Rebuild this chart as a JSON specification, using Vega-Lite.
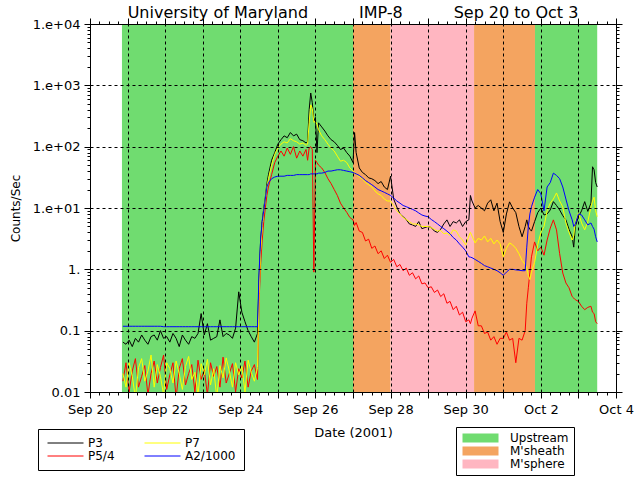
{
  "$schema": "https://vega.github.io/schema/vega-lite/v6.json",
  "width": 526,
  "height": 368,
  "autosize": {"type": "none"},
  "padding": {"left": 90, "top": 24, "right": 24, "bottom": 88},
  "background": "white",
  "config": {
    "font": "DejaVu Sans",
    "view": {"stroke": "black"},
    "axis": {"domainColor": "black", "tickColor": "black", "labelColor": "black", "titleColor": "black", "titleFontWeight": "normal"}
  },
  "title": {
    "text": "University of Maryland\u00a0\u00a0\u00a0\u00a0\u00a0\u00a0\u00a0\u00a0\u00a0\u00a0IMP-8\u00a0\u00a0\u00a0\u00a0\u00a0\u00a0\u00a0\u00a0\u00a0\u00a0Sep 20 to Oct 3",
    "fontSize": 16,
    "fontWeight": "normal",
    "anchor": "middle",
    "offset": -3,
    "color": "black"
  },
  "data": {
    "values": [
      {"t": "2001-09-20T21:00", "P3": 0.065, "P5/4": 0.015, "P7": 0.02, "A2/1000": 0.118},
      {"t": "2001-09-20T23:00", "P3": 0.06, "P5/4": 0.03, "P7": 0.012, "A2/1000": 0.118},
      {"t": "2001-09-21T01:00", "P3": 0.07, "P5/4": 0.01, "P7": 0.03, "A2/1000": 0.118},
      {"t": "2001-09-21T03:00", "P3": 0.055, "P5/4": 0.022, "P7": 0.018, "A2/1000": 0.118},
      {"t": "2001-09-21T05:00", "P3": 0.075, "P5/4": 0.035, "P7": 0.008, "A2/1000": 0.118},
      {"t": "2001-09-21T07:00", "P3": 0.065, "P5/4": 0.012, "P7": 0.025, "A2/1000": 0.118},
      {"t": "2001-09-21T09:00", "P3": 0.085, "P5/4": 0.018, "P7": 0.035, "A2/1000": 0.118},
      {"t": "2001-09-21T11:00", "P3": 0.07, "P5/4": 0.027, "P7": 0.015, "A2/1000": 0.118},
      {"t": "2001-09-21T13:00", "P3": 0.06, "P5/4": 0.009, "P7": 0.022, "A2/1000": 0.118},
      {"t": "2001-09-21T15:00", "P3": 0.08, "P5/4": 0.02, "P7": 0.04, "A2/1000": 0.118},
      {"t": "2001-09-21T17:00", "P3": 0.085, "P5/4": 0.032, "P7": 0.012, "A2/1000": 0.118},
      {"t": "2001-09-21T19:00", "P3": 0.07, "P5/4": 0.014, "P7": 0.028, "A2/1000": 0.118},
      {"t": "2001-09-21T21:00", "P3": 0.1, "P5/4": 0.025, "P7": 0.018, "A2/1000": 0.118},
      {"t": "2001-09-21T23:00", "P3": 0.075, "P5/4": 0.04, "P7": 0.009, "A2/1000": 0.116},
      {"t": "2001-09-22T01:00", "P3": 0.08, "P5/4": 0.011, "P7": 0.03, "A2/1000": 0.116},
      {"t": "2001-09-22T03:00", "P3": 0.065, "P5/4": 0.019, "P7": 0.024, "A2/1000": 0.116},
      {"t": "2001-09-22T05:00", "P3": 0.09, "P5/4": 0.03, "P7": 0.014, "A2/1000": 0.116},
      {"t": "2001-09-22T07:00", "P3": 0.075, "P5/4": 0.008, "P7": 0.032, "A2/1000": 0.116},
      {"t": "2001-09-22T09:00", "P3": 0.055, "P5/4": 0.024, "P7": 0.02, "A2/1000": 0.116},
      {"t": "2001-09-22T11:00", "P3": 0.085, "P5/4": 0.035, "P7": 0.011, "A2/1000": 0.116},
      {"t": "2001-09-22T13:00", "P3": 0.07, "P5/4": 0.013, "P7": 0.026, "A2/1000": 0.116},
      {"t": "2001-09-22T15:00", "P3": 0.06, "P5/4": 0.02, "P7": 0.038, "A2/1000": 0.116},
      {"t": "2001-09-22T17:00", "P3": 0.08, "P5/4": 0.028, "P7": 0.016, "A2/1000": 0.116},
      {"t": "2001-09-22T19:00", "P3": 0.075, "P5/4": 0.01, "P7": 0.021, "A2/1000": 0.116},
      {"t": "2001-09-22T21:00", "P3": 0.09, "P5/4": 0.033, "P7": 0.009, "A2/1000": 0.116},
      {"t": "2001-09-22T23:00", "P3": 0.19, "P5/4": 0.016, "P7": 0.029, "A2/1000": 0.116},
      {"t": "2001-09-23T01:00", "P3": 0.085, "P5/4": 0.023, "P7": 0.019, "A2/1000": 0.116},
      {"t": "2001-09-23T03:00", "P3": 0.13, "P5/4": 0.009, "P7": 0.034, "A2/1000": 0.116},
      {"t": "2001-09-23T05:00", "P3": 0.07, "P5/4": 0.03, "P7": 0.013, "A2/1000": 0.116},
      {"t": "2001-09-23T07:00", "P3": 0.075, "P5/4": 0.018, "P7": 0.024, "A2/1000": 0.116},
      {"t": "2001-09-23T09:00", "P3": 0.08, "P5/4": 0.026, "P7": 0.008, "A2/1000": 0.116},
      {"t": "2001-09-23T11:00", "P3": 0.15, "P5/4": 0.012, "P7": 0.027, "A2/1000": 0.116},
      {"t": "2001-09-23T13:00", "P3": 0.08, "P5/4": 0.037, "P7": 0.017, "A2/1000": 0.116},
      {"t": "2001-09-23T15:00", "P3": 0.09, "P5/4": 0.014, "P7": 0.036, "A2/1000": 0.116},
      {"t": "2001-09-23T17:00", "P3": 0.085, "P5/4": 0.02, "P7": 0.022, "A2/1000": 0.116},
      {"t": "2001-09-23T19:00", "P3": 0.075, "P5/4": 0.029, "P7": 0.012, "A2/1000": 0.116},
      {"t": "2001-09-23T21:00", "P3": 0.11, "P5/4": 0.01, "P7": 0.03, "A2/1000": 0.116},
      {"t": "2001-09-23T23:00", "P3": 0.43, "P5/4": 0.024, "P7": 0.019, "A2/1000": 0.116},
      {"t": "2001-09-24T01:00", "P3": 0.2, "P5/4": 0.017, "P7": 0.026, "A2/1000": 0.116},
      {"t": "2001-09-24T03:00", "P3": 0.14, "P5/4": 0.032, "P7": 0.01, "A2/1000": 0.116},
      {"t": "2001-09-24T05:00", "P3": 0.1, "P5/4": 0.012, "P7": 0.033, "A2/1000": 0.116},
      {"t": "2001-09-24T07:00", "P3": 0.08, "P5/4": 0.022, "P7": 0.021, "A2/1000": 0.116},
      {"t": "2001-09-24T09:00", "P3": 0.065, "P5/4": 0.028, "P7": 0.015, "A2/1000": 0.116},
      {"t": "2001-09-24T11:00", "P3": 0.09, "P5/4": 0.016, "P7": 0.025, "A2/1000": 0.116},
      {"t": "2001-09-24T12:00", "P3": 0.7, "P5/4": 0.3, "P7": 0.4, "A2/1000": 0.9},
      {"t": "2001-09-24T13:00", "P3": 3, "P5/4": 1.2, "P7": 2, "A2/1000": 3},
      {"t": "2001-09-24T14:00", "P3": 6, "P5/4": 3, "P7": 5, "A2/1000": 6},
      {"t": "2001-09-24T15:00", "P3": 10, "P5/4": 6, "P7": 9, "A2/1000": 9},
      {"t": "2001-09-24T16:00", "P3": 15, "P5/4": 10, "P7": 14, "A2/1000": 14},
      {"t": "2001-09-24T17:00", "P3": 25, "P5/4": 16, "P7": 22, "A2/1000": 22},
      {"t": "2001-09-24T18:00", "P3": 35, "P5/4": 22, "P7": 30, "A2/1000": 26},
      {"t": "2001-09-24T20:00", "P3": 60, "P5/4": 35, "P7": 50, "A2/1000": 30},
      {"t": "2001-09-24T22:00", "P3": 80, "P5/4": 55, "P7": 75, "A2/1000": 32},
      {"t": "2001-09-25T00:00", "P3": 110, "P5/4": 70, "P7": 95, "A2/1000": 33},
      {"t": "2001-09-25T02:00", "P3": 130, "P5/4": 85, "P7": 110, "A2/1000": 33},
      {"t": "2001-09-25T04:00", "P3": 150, "P5/4": 70, "P7": 120, "A2/1000": 33},
      {"t": "2001-09-25T06:00", "P3": 140, "P5/4": 95, "P7": 115, "A2/1000": 34},
      {"t": "2001-09-25T08:00", "P3": 170, "P5/4": 75, "P7": 135, "A2/1000": 34},
      {"t": "2001-09-25T10:00", "P3": 150, "P5/4": 100, "P7": 125, "A2/1000": 34},
      {"t": "2001-09-25T12:00", "P3": 160, "P5/4": 65, "P7": 120, "A2/1000": 35},
      {"t": "2001-09-25T14:00", "P3": 130, "P5/4": 85, "P7": 110, "A2/1000": 35},
      {"t": "2001-09-25T16:00", "P3": 125, "P5/4": 70, "P7": 115, "A2/1000": 35},
      {"t": "2001-09-25T18:00", "P3": 115, "P5/4": 90, "P7": 105, "A2/1000": 35},
      {"t": "2001-09-25T19:00", "P3": 120, "P5/4": 60, "P7": 110, "A2/1000": 35},
      {"t": "2001-09-25T20:00", "P3": 400, "P5/4": 95, "P7": 250, "A2/1000": 35},
      {"t": "2001-09-25T21:00", "P3": 750, "P5/4": 100, "P7": 480, "A2/1000": 36},
      {"t": "2001-09-25T22:00", "P3": 520, "P5/4": 90, "P7": 420, "A2/1000": 36},
      {"t": "2001-09-25T23:00", "P3": 260, "P5/4": 0.9, "P7": 250, "A2/1000": 36},
      {"t": "2001-09-26T00:00", "P3": 300, "P5/4": 60, "P7": 260, "A2/1000": 36},
      {"t": "2001-09-26T01:00", "P3": 80, "P5/4": 55, "P7": 230, "A2/1000": 36},
      {"t": "2001-09-26T02:00", "P3": 245, "P5/4": 50, "P7": 190, "A2/1000": 37},
      {"t": "2001-09-26T04:00", "P3": 210, "P5/4": 45, "P7": 150, "A2/1000": 37},
      {"t": "2001-09-26T06:00", "P3": 180, "P5/4": 38, "P7": 130, "A2/1000": 38},
      {"t": "2001-09-26T08:00", "P3": 150, "P5/4": 30, "P7": 110, "A2/1000": 40},
      {"t": "2001-09-26T10:00", "P3": 130, "P5/4": 25, "P7": 95, "A2/1000": 40},
      {"t": "2001-09-26T12:00", "P3": 120, "P5/4": 20, "P7": 85, "A2/1000": 41},
      {"t": "2001-09-26T14:00", "P3": 105, "P5/4": 16, "P7": 70, "A2/1000": 42},
      {"t": "2001-09-26T16:00", "P3": 90, "P5/4": 12, "P7": 58, "A2/1000": 42},
      {"t": "2001-09-26T18:00", "P3": 95, "P5/4": 10, "P7": 60, "A2/1000": 41},
      {"t": "2001-09-26T20:00", "P3": 80, "P5/4": 8.5, "P7": 55, "A2/1000": 40},
      {"t": "2001-09-26T22:00", "P3": 70, "P5/4": 7, "P7": 45, "A2/1000": 39},
      {"t": "2001-09-27T00:00", "P3": 55, "P5/4": 6.4, "P7": 40, "A2/1000": 38},
      {"t": "2001-09-27T01:00", "P3": 170, "P5/4": 5.2, "P7": 38, "A2/1000": 37},
      {"t": "2001-09-27T02:00", "P3": 80, "P5/4": 5.8, "P7": 36, "A2/1000": 36},
      {"t": "2001-09-27T04:00", "P3": 45, "P5/4": 4.2, "P7": 32, "A2/1000": 34},
      {"t": "2001-09-27T06:00", "P3": 38, "P5/4": 4.0, "P7": 30, "A2/1000": 31},
      {"t": "2001-09-27T08:00", "P3": 35, "P5/4": 2.9, "P7": 26, "A2/1000": 28},
      {"t": "2001-09-27T10:00", "P3": 31, "P5/4": 3.1, "P7": 24, "A2/1000": 26},
      {"t": "2001-09-27T12:00", "P3": 30, "P5/4": 2.2, "P7": 22, "A2/1000": 24},
      {"t": "2001-09-27T14:00", "P3": 28, "P5/4": 2.4, "P7": 19, "A2/1000": 22},
      {"t": "2001-09-27T16:00", "P3": 25, "P5/4": 1.8, "P7": 17, "A2/1000": 20},
      {"t": "2001-09-27T18:00", "P3": 27, "P5/4": 2.0, "P7": 16, "A2/1000": 19},
      {"t": "2001-09-27T20:00", "P3": 22, "P5/4": 1.5, "P7": 14, "A2/1000": 18},
      {"t": "2001-09-27T22:00", "P3": 20, "P5/4": 1.7, "P7": 13, "A2/1000": 17},
      {"t": "2001-09-28T00:00", "P3": 33, "P5/4": 1.3, "P7": 13, "A2/1000": 16},
      {"t": "2001-09-28T02:00", "P3": 14, "P5/4": 1.45, "P7": 11, "A2/1000": 14.5},
      {"t": "2001-09-28T04:00", "P3": 10.4, "P5/4": 1.1, "P7": 9, "A2/1000": 13},
      {"t": "2001-09-28T06:00", "P3": 8, "P5/4": 1.2, "P7": 8, "A2/1000": 12},
      {"t": "2001-09-28T08:00", "P3": 7.2, "P5/4": 0.95, "P7": 7, "A2/1000": 11},
      {"t": "2001-09-28T10:00", "P3": 6.5, "P5/4": 1.05, "P7": 6.5, "A2/1000": 10.5},
      {"t": "2001-09-28T12:00", "P3": 5.5, "P5/4": 0.8, "P7": 6, "A2/1000": 10},
      {"t": "2001-09-28T14:00", "P3": 5.3, "P5/4": 0.88, "P7": 5.5, "A2/1000": 9.5},
      {"t": "2001-09-28T16:00", "P3": 5.0, "P5/4": 0.7, "P7": 5.5, "A2/1000": 9},
      {"t": "2001-09-28T18:00", "P3": 6, "P5/4": 0.78, "P7": 5.3, "A2/1000": 8.3},
      {"t": "2001-09-28T20:00", "P3": 4.6, "P5/4": 0.58, "P7": 5.0, "A2/1000": 7.7},
      {"t": "2001-09-28T22:00", "P3": 4.8, "P5/4": 0.6, "P7": 5, "A2/1000": 7.4},
      {"t": "2001-09-29T00:00", "P3": 5, "P5/4": 0.5, "P7": 5, "A2/1000": 7.2},
      {"t": "2001-09-29T02:00", "P3": 4.8, "P5/4": 0.52, "P7": 4.8, "A2/1000": 6.5},
      {"t": "2001-09-29T04:00", "P3": 4.2, "P5/4": 0.42, "P7": 4.5, "A2/1000": 6},
      {"t": "2001-09-29T06:00", "P3": 4.0, "P5/4": 0.46, "P7": 4.2, "A2/1000": 5.5},
      {"t": "2001-09-29T08:00", "P3": 4.5, "P5/4": 0.36, "P7": 4.3, "A2/1000": 5},
      {"t": "2001-09-29T10:00", "P3": 5.5, "P5/4": 0.4, "P7": 3.8, "A2/1000": 4.6},
      {"t": "2001-09-29T12:00", "P3": 6.4, "P5/4": 0.28, "P7": 3.9, "A2/1000": 4.2},
      {"t": "2001-09-29T14:00", "P3": 5, "P5/4": 0.3, "P7": 3.6, "A2/1000": 3.8},
      {"t": "2001-09-29T16:00", "P3": 6, "P5/4": 0.22, "P7": 4.4, "A2/1000": 3.3},
      {"t": "2001-09-29T18:00", "P3": 5.7, "P5/4": 0.25, "P7": 4.2, "A2/1000": 3.0},
      {"t": "2001-09-29T20:00", "P3": 6.4, "P5/4": 0.18, "P7": 3.4, "A2/1000": 2.6},
      {"t": "2001-09-29T22:00", "P3": 5, "P5/4": 0.2, "P7": 3.0, "A2/1000": 2.3},
      {"t": "2001-09-30T00:00", "P3": 6, "P5/4": 0.14, "P7": 2.5, "A2/1000": 2.0},
      {"t": "2001-09-30T02:00", "P3": 6.4, "P5/4": 0.15, "P7": 3.5, "A2/1000": 1.6},
      {"t": "2001-09-30T03:00", "P3": 16, "P5/4": 0.13, "P7": 4.0, "A2/1000": 1.58},
      {"t": "2001-09-30T04:00", "P3": 13, "P5/4": 0.16, "P7": 3.5, "A2/1000": 1.55},
      {"t": "2001-09-30T06:00", "P3": 10, "P5/4": 0.21, "P7": 2.7, "A2/1000": 1.45},
      {"t": "2001-09-30T08:00", "P3": 11, "P5/4": 0.12, "P7": 3.2, "A2/1000": 1.35},
      {"t": "2001-09-30T10:00", "P3": 10, "P5/4": 0.12, "P7": 3.0, "A2/1000": 1.25},
      {"t": "2001-09-30T12:00", "P3": 9, "P5/4": 0.09, "P7": 3.5, "A2/1000": 1.15},
      {"t": "2001-09-30T14:00", "P3": 12, "P5/4": 0.095, "P7": 2.8, "A2/1000": 1.1},
      {"t": "2001-09-30T16:00", "P3": 13.6, "P5/4": 0.07, "P7": 3.2, "A2/1000": 1.05},
      {"t": "2001-09-30T18:00", "P3": 9, "P5/4": 0.08, "P7": 2.6, "A2/1000": 1.0},
      {"t": "2001-09-30T20:00", "P3": 12, "P5/4": 0.06, "P7": 3.0, "A2/1000": 0.95},
      {"t": "2001-09-30T22:00", "P3": 6, "P5/4": 0.075, "P7": 2.6, "A2/1000": 0.88},
      {"t": "2001-10-01T00:00", "P3": 4.0, "P5/4": 0.075, "P7": 1.6, "A2/1000": 0.8},
      {"t": "2001-10-01T02:00", "P3": 8, "P5/4": 0.095, "P7": 2.2, "A2/1000": 0.9},
      {"t": "2001-10-01T04:00", "P3": 12.6, "P5/4": 0.07, "P7": 2.7, "A2/1000": 1.0},
      {"t": "2001-10-01T06:00", "P3": 10, "P5/4": 0.075, "P7": 2.5, "A2/1000": 1.0},
      {"t": "2001-10-01T08:00", "P3": 8.4, "P5/4": 0.03, "P7": 2.2, "A2/1000": 0.98},
      {"t": "2001-10-01T10:00", "P3": 5, "P5/4": 0.075, "P7": 1.8, "A2/1000": 0.97},
      {"t": "2001-10-01T12:00", "P3": 3.4, "P5/4": 0.07, "P7": 1.4, "A2/1000": 0.95},
      {"t": "2001-10-01T14:00", "P3": 5, "P5/4": 0.1, "P7": 1.2, "A2/1000": 0.95},
      {"t": "2001-10-01T15:00", "P3": 6.4, "P5/4": 0.28, "P7": 1.05, "A2/1000": 2.3},
      {"t": "2001-10-01T16:00", "P3": 5, "P5/4": 0.5, "P7": 0.8, "A2/1000": 5},
      {"t": "2001-10-01T17:00", "P3": 4.5, "P5/4": 0.9, "P7": 0.68, "A2/1000": 8},
      {"t": "2001-10-01T18:00", "P3": 4.2, "P5/4": 1.6, "P7": 0.9, "A2/1000": 10.5},
      {"t": "2001-10-01T20:00", "P3": 6, "P5/4": 2.8, "P7": 1.3, "A2/1000": 15},
      {"t": "2001-10-01T22:00", "P3": 8.4, "P5/4": 2.0, "P7": 2.5, "A2/1000": 20},
      {"t": "2001-10-02T00:00", "P3": 10, "P5/4": 2.3, "P7": 4.0, "A2/1000": 17},
      {"t": "2001-10-02T02:00", "P3": 7.7, "P5/4": 1.7, "P7": 5, "A2/1000": 9},
      {"t": "2001-10-02T04:00", "P3": 8, "P5/4": 3.0, "P7": 9, "A2/1000": 22},
      {"t": "2001-10-02T06:00", "P3": 9.3, "P5/4": 4.7, "P7": 12, "A2/1000": 26},
      {"t": "2001-10-02T08:00", "P3": 12.7, "P5/4": 6.4, "P7": 14, "A2/1000": 37},
      {"t": "2001-10-02T10:00", "P3": 11, "P5/4": 4.4, "P7": 17.6, "A2/1000": 34},
      {"t": "2001-10-02T12:00", "P3": 9.3, "P5/4": 1.8, "P7": 13, "A2/1000": 30},
      {"t": "2001-10-02T14:00", "P3": 7.5, "P5/4": 0.87, "P7": 10.4, "A2/1000": 22},
      {"t": "2001-10-02T16:00", "P3": 6.4, "P5/4": 0.6, "P7": 5.7, "A2/1000": 14},
      {"t": "2001-10-02T18:00", "P3": 4.5, "P5/4": 0.5, "P7": 4.0, "A2/1000": 9},
      {"t": "2001-10-02T20:00", "P3": 3.4, "P5/4": 0.36, "P7": 3.0, "A2/1000": 6.4},
      {"t": "2001-10-02T21:00", "P3": 2.3, "P5/4": 0.34, "P7": 3.5, "A2/1000": 5},
      {"t": "2001-10-02T22:00", "P3": 5, "P5/4": 0.32, "P7": 6, "A2/1000": 5.5},
      {"t": "2001-10-03T00:00", "P3": 7.2, "P5/4": 0.3, "P7": 8.4, "A2/1000": 8},
      {"t": "2001-10-03T02:00", "P3": 9, "P5/4": 0.25, "P7": 5.7, "A2/1000": 7.7},
      {"t": "2001-10-03T04:00", "P3": 12.7, "P5/4": 0.22, "P7": 4.4, "A2/1000": 6.4},
      {"t": "2001-10-03T06:00", "P3": 8.8, "P5/4": 0.24, "P7": 6, "A2/1000": 5.3},
      {"t": "2001-10-03T08:00", "P3": 12, "P5/4": 0.25, "P7": 10.4, "A2/1000": 5.7},
      {"t": "2001-10-03T09:00", "P3": 47, "P5/4": 0.2, "P7": 13, "A2/1000": 5},
      {"t": "2001-10-03T10:00", "P3": 42, "P5/4": 0.19, "P7": 15, "A2/1000": 4.5},
      {"t": "2001-10-03T11:00", "P3": 26, "P5/4": 0.14, "P7": 9, "A2/1000": 3.4},
      {"t": "2001-10-03T12:00", "P3": 22, "P5/4": 0.13, "P7": 7.2, "A2/1000": 2.8}
    ]
  },
  "layer": [
    {
      "data": {
        "values": [
          {"start": "2001-09-20T20:25", "end": "2001-09-27T00:00", "region": "Upstream"},
          {"start": "2001-09-27T00:00", "end": "2001-09-28T00:00", "region": "M'sheath"},
          {"start": "2001-09-28T00:00", "end": "2001-09-30T05:20", "region": "M'sphere"},
          {"start": "2001-09-30T05:20", "end": "2001-10-01T20:15", "region": "M'sheath"},
          {"start": "2001-10-01T20:15", "end": "2001-10-03T12:00", "region": "Upstream"}
        ]
      },
      "mark": {"type": "rect"},
      "encoding": {
        "x": {
          "field": "start",
          "type": "temporal",
          "scale": {"domain": [{"year": 2001, "month": "sep", "date": 20}, {"year": 2001, "month": "oct", "date": 4}]},
          "axis": {
            "orient": "bottom",
            "values": [
              {"year": 2001, "month": "sep", "date": 20}, {"year": 2001, "month": "sep", "date": 20, "hours": 6}, {"year": 2001, "month": "sep", "date": 20, "hours": 12}, {"year": 2001, "month": "sep", "date": 20, "hours": 18},
              {"year": 2001, "month": "sep", "date": 21}, {"year": 2001, "month": "sep", "date": 21, "hours": 6}, {"year": 2001, "month": "sep", "date": 21, "hours": 12}, {"year": 2001, "month": "sep", "date": 21, "hours": 18},
              {"year": 2001, "month": "sep", "date": 22}, {"year": 2001, "month": "sep", "date": 22, "hours": 6}, {"year": 2001, "month": "sep", "date": 22, "hours": 12}, {"year": 2001, "month": "sep", "date": 22, "hours": 18},
              {"year": 2001, "month": "sep", "date": 23}, {"year": 2001, "month": "sep", "date": 23, "hours": 6}, {"year": 2001, "month": "sep", "date": 23, "hours": 12}, {"year": 2001, "month": "sep", "date": 23, "hours": 18},
              {"year": 2001, "month": "sep", "date": 24}, {"year": 2001, "month": "sep", "date": 24, "hours": 6}, {"year": 2001, "month": "sep", "date": 24, "hours": 12}, {"year": 2001, "month": "sep", "date": 24, "hours": 18},
              {"year": 2001, "month": "sep", "date": 25}, {"year": 2001, "month": "sep", "date": 25, "hours": 6}, {"year": 2001, "month": "sep", "date": 25, "hours": 12}, {"year": 2001, "month": "sep", "date": 25, "hours": 18},
              {"year": 2001, "month": "sep", "date": 26}, {"year": 2001, "month": "sep", "date": 26, "hours": 6}, {"year": 2001, "month": "sep", "date": 26, "hours": 12}, {"year": 2001, "month": "sep", "date": 26, "hours": 18},
              {"year": 2001, "month": "sep", "date": 27}, {"year": 2001, "month": "sep", "date": 27, "hours": 6}, {"year": 2001, "month": "sep", "date": 27, "hours": 12}, {"year": 2001, "month": "sep", "date": 27, "hours": 18},
              {"year": 2001, "month": "sep", "date": 28}, {"year": 2001, "month": "sep", "date": 28, "hours": 6}, {"year": 2001, "month": "sep", "date": 28, "hours": 12}, {"year": 2001, "month": "sep", "date": 28, "hours": 18},
              {"year": 2001, "month": "sep", "date": 29}, {"year": 2001, "month": "sep", "date": 29, "hours": 6}, {"year": 2001, "month": "sep", "date": 29, "hours": 12}, {"year": 2001, "month": "sep", "date": 29, "hours": 18},
              {"year": 2001, "month": "sep", "date": 30}, {"year": 2001, "month": "sep", "date": 30, "hours": 6}, {"year": 2001, "month": "sep", "date": 30, "hours": 12}, {"year": 2001, "month": "sep", "date": 30, "hours": 18},
              {"year": 2001, "month": "oct", "date": 1}, {"year": 2001, "month": "oct", "date": 1, "hours": 6}, {"year": 2001, "month": "oct", "date": 1, "hours": 12}, {"year": 2001, "month": "oct", "date": 1, "hours": 18},
              {"year": 2001, "month": "oct", "date": 2}, {"year": 2001, "month": "oct", "date": 2, "hours": 6}, {"year": 2001, "month": "oct", "date": 2, "hours": 12}, {"year": 2001, "month": "oct", "date": 2, "hours": 18},
              {"year": 2001, "month": "oct", "date": 3}, {"year": 2001, "month": "oct", "date": 3, "hours": 6}, {"year": 2001, "month": "oct", "date": 3, "hours": 12}, {"year": 2001, "month": "oct", "date": 3, "hours": 18},
              {"year": 2001, "month": "oct", "date": 4}
            ],
            "format": "%b %-d",
            "labelExpr": "(datum.value - datetime(2001, 8, 20)) % 172800000 == 0 ? datum.label : ''",
            "labelOverlap": false,
            "labelFlush": false,
            "labelFontSize": 13,
            "labelPadding": 5,
            "tickSize": {"condition": {"test": "(datum.value - datetime(2001, 8, 20)) % 86400000 == 0", "value": 6}, "value": 3},
            "grid": true,
            "gridColor": "black",
            "gridDash": [3, 3],
            "gridOpacity": {"condition": {"test": "(datum.value - datetime(2001, 8, 20)) % 86400000 == 0", "value": 1}, "value": 0},
            "title": "Date (2001)",
            "titleFontSize": 13,
            "titlePadding": 10,
            "zindex": 1
          }
        },
        "x2": {"field": "end"},
        "fill": {
          "field": "region",
          "type": "nominal",
          "scale": {"domain": ["Upstream", "M'sheath", "M'sphere"], "range": ["#70DC70", "#F4A460", "#FFB6C1"]},
          "legend": {
            "title": null,
            "orient": "none",
            "legendX": 366,
            "legendY": 403,
            "padding": 5,
            "rowPadding": 1,
            "symbolType": "M-1,-1H7V1H-1Z",
            "symbolSize": 81,
            "symbolStrokeWidth": 0,
            "labelOffset": 37,
            "labelFontSize": 12,
            "labelColor": "black",
            "strokeColor": "black",
            "fillColor": "white"
          }
        }
      }
    },
    {
      "transform": [{"fold": ["P3", "P5/4", "P7", "A2/1000"], "as": ["series", "count"]}],
      "mark": {"type": "line", "strokeWidth": 1, "clip": true},
      "encoding": {
        "x": {"field": "t", "type": "temporal", "axis": null},
        "y": {
          "field": "count",
          "type": "quantitative",
          "scale": {"type": "log", "domain": [0.01, 10000]},
          "axis": {
            "orient": "left",
            "values": [0.01, 0.02, 0.03, 0.04, 0.05, 0.06, 0.07, 0.08, 0.09, 0.1, 0.2, 0.3, 0.4, 0.5, 0.6, 0.7, 0.8, 0.9, 1, 2, 3, 4, 5, 6, 7, 8, 9, 10, 20, 30, 40, 50, 60, 70, 80, 90, 100, 200, 300, 400, 500, 600, 700, 800, 900, 1000, 2000, 3000, 4000, 5000, 6000, 7000, 8000, 9000, 10000],
            "labelExpr": "datum.value == 10000 ? '1.e+04' : datum.value == 1000 ? '1.e+03' : datum.value == 100 ? '1.e+02' : datum.value == 10 ? '1.e+01' : datum.value == 1 ? '1.' : datum.value == 0.1 ? '0.1' : datum.value == 0.01 ? '0.01' : ''",
            "labelOverlap": false,
            "labelFontSize": 13,
            "labelPadding": 4,
            "tickSize": {"condition": {"test": "indexof([0.01, 0.1, 1, 10, 100, 1000, 10000], datum.value) >= 0", "value": 6}, "value": 3},
            "grid": true,
            "gridColor": "black",
            "gridDash": [3, 3],
            "gridOpacity": {"condition": {"test": "indexof([0.01, 0.1, 1, 10, 100, 1000, 10000], datum.value) >= 0", "value": 1}, "value": 0},
            "title": "Counts/Sec",
            "titleFontSize": 12,
            "titlePadding": 10,
            "zindex": 1
          }
        },
        "stroke": {
          "field": "series",
          "type": "nominal",
          "scale": {"domain": ["P3", "P5/4", "P7", "A2/1000"], "range": ["black", "#FF0000", "#FFFF00", "#0000FF"]},
          "legend": {
            "title": null,
            "orient": "none",
            "legendX": -52,
            "legendY": 405,
            "columns": 2,
            "columnPadding": 27,
            "rowPadding": 1,
            "padding": 8,
            "symbolType": "M-1,0H7",
            "symbolSize": 81,
            "symbolStrokeWidth": 1,
            "labelOffset": 30,
            "labelFontSize": 12,
            "labelColor": "black",
            "strokeColor": "black",
            "fillColor": "white"
          }
        }
      }
    },
    {
      "transform": [{"fold": ["P3", "P5/4", "P7", "A2/1000"], "as": ["series", "count"]}],
      "mark": {"type": "line", "opacity": 0},
      "encoding": {
        "x": {
          "field": "t",
          "type": "temporal",
          "axis": {
            "orient": "top",
            "values": [
              {"year": 2001, "month": "sep", "date": 20}, {"year": 2001, "month": "sep", "date": 20, "hours": 6}, {"year": 2001, "month": "sep", "date": 20, "hours": 12}, {"year": 2001, "month": "sep", "date": 20, "hours": 18},
              {"year": 2001, "month": "sep", "date": 21}, {"year": 2001, "month": "sep", "date": 21, "hours": 6}, {"year": 2001, "month": "sep", "date": 21, "hours": 12}, {"year": 2001, "month": "sep", "date": 21, "hours": 18},
              {"year": 2001, "month": "sep", "date": 22}, {"year": 2001, "month": "sep", "date": 22, "hours": 6}, {"year": 2001, "month": "sep", "date": 22, "hours": 12}, {"year": 2001, "month": "sep", "date": 22, "hours": 18},
              {"year": 2001, "month": "sep", "date": 23}, {"year": 2001, "month": "sep", "date": 23, "hours": 6}, {"year": 2001, "month": "sep", "date": 23, "hours": 12}, {"year": 2001, "month": "sep", "date": 23, "hours": 18},
              {"year": 2001, "month": "sep", "date": 24}, {"year": 2001, "month": "sep", "date": 24, "hours": 6}, {"year": 2001, "month": "sep", "date": 24, "hours": 12}, {"year": 2001, "month": "sep", "date": 24, "hours": 18},
              {"year": 2001, "month": "sep", "date": 25}, {"year": 2001, "month": "sep", "date": 25, "hours": 6}, {"year": 2001, "month": "sep", "date": 25, "hours": 12}, {"year": 2001, "month": "sep", "date": 25, "hours": 18},
              {"year": 2001, "month": "sep", "date": 26}, {"year": 2001, "month": "sep", "date": 26, "hours": 6}, {"year": 2001, "month": "sep", "date": 26, "hours": 12}, {"year": 2001, "month": "sep", "date": 26, "hours": 18},
              {"year": 2001, "month": "sep", "date": 27}, {"year": 2001, "month": "sep", "date": 27, "hours": 6}, {"year": 2001, "month": "sep", "date": 27, "hours": 12}, {"year": 2001, "month": "sep", "date": 27, "hours": 18},
              {"year": 2001, "month": "sep", "date": 28}, {"year": 2001, "month": "sep", "date": 28, "hours": 6}, {"year": 2001, "month": "sep", "date": 28, "hours": 12}, {"year": 2001, "month": "sep", "date": 28, "hours": 18},
              {"year": 2001, "month": "sep", "date": 29}, {"year": 2001, "month": "sep", "date": 29, "hours": 6}, {"year": 2001, "month": "sep", "date": 29, "hours": 12}, {"year": 2001, "month": "sep", "date": 29, "hours": 18},
              {"year": 2001, "month": "sep", "date": 30}, {"year": 2001, "month": "sep", "date": 30, "hours": 6}, {"year": 2001, "month": "sep", "date": 30, "hours": 12}, {"year": 2001, "month": "sep", "date": 30, "hours": 18},
              {"year": 2001, "month": "oct", "date": 1}, {"year": 2001, "month": "oct", "date": 1, "hours": 6}, {"year": 2001, "month": "oct", "date": 1, "hours": 12}, {"year": 2001, "month": "oct", "date": 1, "hours": 18},
              {"year": 2001, "month": "oct", "date": 2}, {"year": 2001, "month": "oct", "date": 2, "hours": 6}, {"year": 2001, "month": "oct", "date": 2, "hours": 12}, {"year": 2001, "month": "oct", "date": 2, "hours": 18},
              {"year": 2001, "month": "oct", "date": 3}, {"year": 2001, "month": "oct", "date": 3, "hours": 6}, {"year": 2001, "month": "oct", "date": 3, "hours": 12}, {"year": 2001, "month": "oct", "date": 3, "hours": 18},
              {"year": 2001, "month": "oct", "date": 4}
            ],
            "labels": false,
            "grid": false,
            "title": null,
            "tickSize": {"condition": {"test": "(datum.value - datetime(2001, 8, 20)) % 86400000 == 0", "value": 6}, "value": 3},
            "zindex": 1
          }
        },
        "y": {
          "field": "count",
          "type": "quantitative",
          "axis": {
            "orient": "right",
            "values": [0.01, 0.02, 0.03, 0.04, 0.05, 0.06, 0.07, 0.08, 0.09, 0.1, 0.2, 0.3, 0.4, 0.5, 0.6, 0.7, 0.8, 0.9, 1, 2, 3, 4, 5, 6, 7, 8, 9, 10, 20, 30, 40, 50, 60, 70, 80, 90, 100, 200, 300, 400, 500, 600, 700, 800, 900, 1000, 2000, 3000, 4000, 5000, 6000, 7000, 8000, 9000, 10000],
            "labels": false,
            "grid": false,
            "title": null,
            "tickSize": {"condition": {"test": "indexof([0.01, 0.1, 1, 10, 100, 1000, 10000], datum.value) >= 0", "value": 6}, "value": 3},
            "zindex": 1
          }
        },
        "detail": {"field": "series", "type": "nominal"}
      }
    }
  ],
  "resolve": {"axis": {"x": "independent", "y": "independent"}}
}
